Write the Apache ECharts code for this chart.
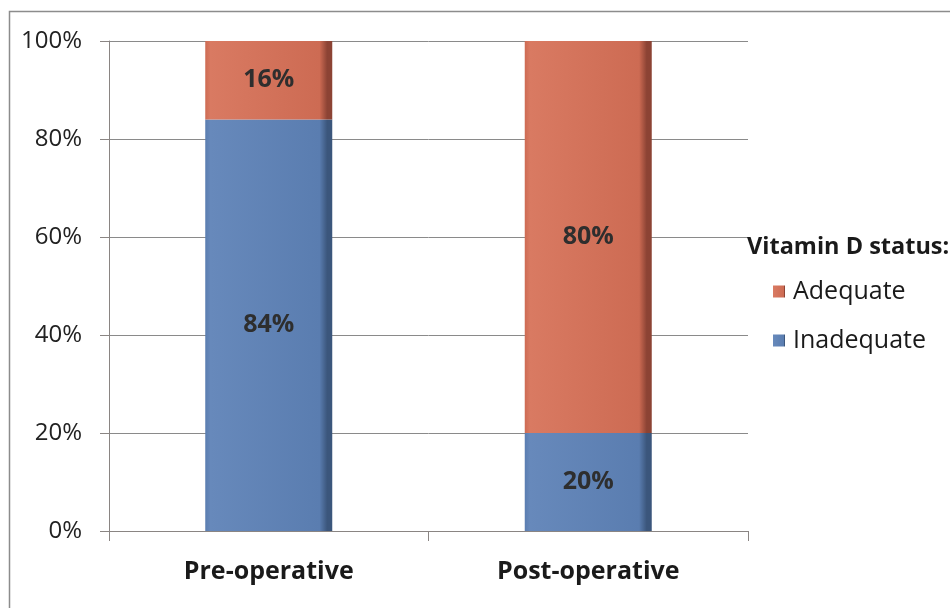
<!DOCTYPE html>
<html>
<head>
<meta charset="utf-8">
<script src="https://cdn.jsdelivr.net/npm/echarts@6/dist/echarts.min.js"></script>
<style>
  html, body { margin: 0; padding: 0; background: #fff; }
  #chart { width: 950px; height: 608px; }
</style>
</head>
<body>
<div id="chart"></div>
<script>
// Vitamin D status before and after surgery (percent of patients)
const categories = ['Pre-operative', 'Post-operative'];
const inadequate = [84, 20];
const adequate = [16, 80];
const yTicks = [0, 20, 40, 60, 80, 100];

const FONT = '"Open Sans", "Liberation Sans", sans-serif';

function barFill(light, mid, dark) {
  return new echarts.graphic.LinearGradient(0, 0, 1, 0, [
    { offset: 0, color: mid },
    { offset: 0.04, color: light },
    { offset: 0.9, color: mid },
    { offset: 0.96, color: dark },
    { offset: 1, color: dark }
  ]);
}

const chart = echarts.init(document.getElementById('chart'), null, { renderer: 'canvas' });

const labelStyle = {
  show: true,
  position: 'inside',
  formatter: p => p.value + '%',
  fontFamily: FONT,
  fontWeight: 'bold',
  fontSize: 25,
  color: '#2e2e2e'
};

chart.setOption({
  backgroundColor: '#ffffff',
  animation: false,
  graphic: [{
    type: 'rect',
    shape: { x: 9.5, y: 11.5, width: 1000, height: 700 },
    style: { fill: 'none', stroke: '#8c8c8c', lineWidth: 1.5 },
    silent: true,
    z: -1
  }],
  title: {
    text: 'Vitamin D status:',
    left: 747,
    top: 235,
    textStyle: { fontFamily: FONT, fontWeight: 'bold', fontSize: 23.5, color: '#1a1a1a' },
    padding: 0
  },
  legend: {
    orient: 'vertical',
    left: 773,
    top: 279,
    itemWidth: 12,
    itemHeight: 12,
    itemGap: 24,
    icon: 'rect',
    data: ['Adequate', 'Inadequate'],
    textStyle: { fontFamily: FONT, fontSize: 25, color: '#1a1a1a', padding: [0, 0, 0, 3] },
    padding: 0
  },
  grid: { left: 109, right: 202, top: 41, bottom: 77 },
  xAxis: {
    type: 'category',
    data: categories,
    axisLine: { lineStyle: { color: '#8a8583', width: 1 } },
    axisTick: { show: true, length: 10, lineStyle: { color: '#8a8583' } },
    axisLabel: {
      margin: 28,
      fontFamily: FONT,
      fontWeight: 'bold',
      fontSize: 25,
      color: '#1a1a1a'
    }
  },
  yAxis: {
    type: 'value',
    min: 0,
    max: 100,
    interval: 20,
    axisLine: { show: true, lineStyle: { color: '#8a8583', width: 1 } },
    axisTick: { show: true, length: 9, lineStyle: { color: '#8a8583' } },
    splitLine: { lineStyle: { color: '#8a8a8a', width: 1 } },
    axisLabel: {
      margin: 27,
      fontFamily: FONT,
      fontSize: 24,
      color: '#222',
      formatter: v => (yTicks.includes(v) ? v + '%' : '')
    }
  },
  series: [
    {
      name: 'Inadequate',
      type: 'bar',
      stack: 'status',
      barWidth: 127,
      data: inadequate,
      itemStyle: {
        color: barFill('#6789bb', '#5a7db0', '#3b567c')
      },
      label: labelStyle
    },
    {
      name: 'Adequate',
      type: 'bar',
      stack: 'status',
      barWidth: 127,
      data: adequate,
      itemStyle: {
        color: barFill('#d97a62', '#cd6b53', '#8c4334')
      },
      label: labelStyle
    }
  ]
});
</script>
</body>
</html>
